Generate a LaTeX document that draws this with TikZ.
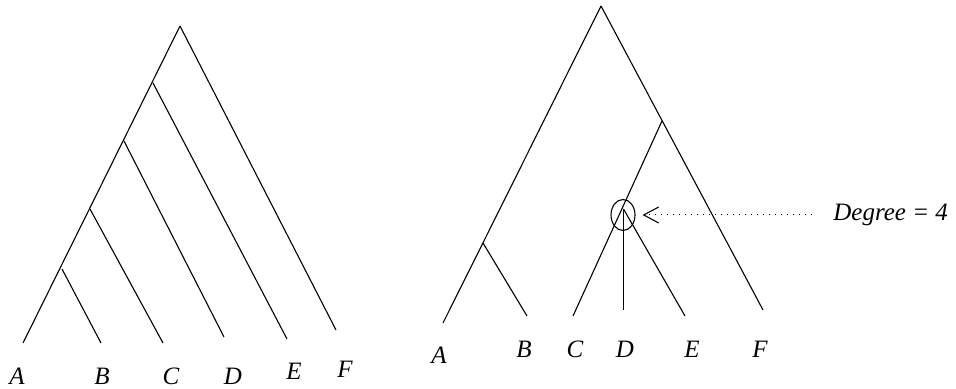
\documentclass[tikz,border=0pt]{standalone}
\usepackage{fontspec}
\setmainfont{Liberation Serif}
\usetikzlibrary{shapes.geometric, arrows.meta, positioning}

\begin{document}
\begin{tikzpicture}[
    x=0.5pt, y=-0.5pt,
    branch/.style={line width=0.55pt},
    leaf/.style={font=\fontsize{12.5}{15}\selectfont\itshape, inner sep=0pt},
    ring/.style={ellipse, draw, line width=0.55pt, minimum width=12pt, minimum height=15.5pt, inner sep=0pt},
    pointer/.style={line width=0.5pt, dash pattern=on 0.6pt off 2.4pt,
                    -{Straight Barb[length=7.5pt, width=8pt, line width=0.55pt]}}
]
\useasboundingbox (0,0) rectangle (956,389);

% left tree (caterpillar)
\coordinate (rootL) at (180,26);
\coordinate (n1) at (153,83);
\coordinate (n2) at (124,141);
\coordinate (n3) at (90,209);
\coordinate (n4) at (62,269);
\coordinate (la) at (23,343);
\coordinate (lb) at (101,343);
\coordinate (lc) at (163,343);
\coordinate (ld) at (224,337);
\coordinate (le) at (287,339);
\coordinate (lf) at (336,330);
\draw [branch] (rootL) -- (la);
\draw [branch] (rootL) -- (lf);
\draw [branch] (n1) -- (le);
\draw [branch] (n2) -- (ld);
\draw [branch] (n3) -- (lc);
\draw [branch] (n4) -- (lb);
\node (tA) [leaf] at (17,376) {A};
\node (tB) [leaf] at (102,376) {B};
\node (tC) [leaf] at (171,376) {C};
\node (tD) [leaf] at (233,376) {D};
\node (tE) [leaf] at (294,371) {E};
\node (tF) [leaf] at (345,369) {F};

% right tree with a degree-4 node
\coordinate (rootR) at (601,6);
\coordinate (ab) at (483,243);
\coordinate (cdef) at (662,121);
\coordinate (deg) at (623.5,209);
\coordinate (ra) at (443,323);
\coordinate (rb) at (527,316);
\coordinate (rc) at (573,316);
\coordinate (rd) at (623.5,310);
\coordinate (re) at (685,316);
\coordinate (rf) at (763,310);
\draw [branch] (rootR) -- (ra);
\draw [branch] (ab) -- (rb);
\draw [branch] (rootR) -- (rf);
\draw [branch] (cdef) -- (rc);
\draw [branch] (deg) -- (rd);
\draw [branch] (deg) -- (re);
\node (sA) [leaf] at (439,355) {A};
\node (sB) [leaf] at (524,349) {B};
\node (sC) [leaf] at (575,349) {C};
\node (sD) [leaf] at (625,349) {D};
\node (sE) [leaf] at (692,349) {E};
\node (sF) [leaf] at (760,349) {F};

\node (circle4) [ring] at (623,215) {};
\node (degree) [leaf, anchor=west] at (833,215) {Degree = 4};
\draw [pointer, shorten <=10.5pt, shorten >=3.5pt] (degree.west) -- (circle4.east);
\end{tikzpicture}
\end{document}
